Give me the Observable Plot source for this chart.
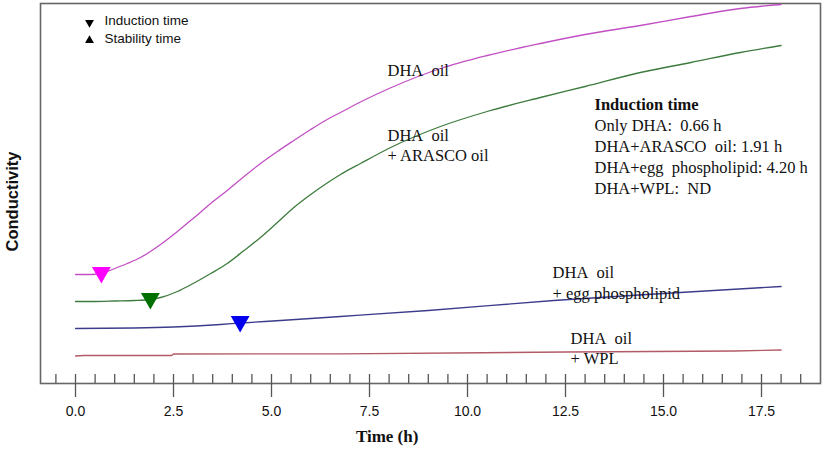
<!DOCTYPE html>
<html>
<head>
<meta charset="utf-8">
<script src="https://cdn.jsdelivr.net/npm/d3@7"></script>
<script src="https://cdn.jsdelivr.net/npm/@observablehq/plot@0.6"></script>
<style>
  html, body { margin: 0; padding: 0; background: #fff; }
</style>
</head>
<body>
<div id="chart"></div>
<script>
// Time (h) and conductivity (arbitrary units) for each sample
const dhaTime   = [0, 0.4, 0.66, 1.0, 1.32, 1.66, 2.17, 2.6, 3.0, 3.45, 3.87, 4.3, 4.72, 5.15, 5.57, 6.0, 6.42, 6.76, 7.27, 8.0, 9.31, 10.5, 11.86, 13.0, 14.41, 15.7, 16.96, 18.0];
const dhaValue  = [109, 109, 110, 115, 120, 126, 139, 152, 165, 180, 193, 207, 220, 232, 243, 254, 264, 271, 281.5, 295, 315, 328, 340, 349, 358, 367, 375, 379];

const arascoTime  = [0, 0.5, 1.0, 1.5, 1.91, 2.17, 2.6, 3.0, 3.45, 3.87, 4.3, 4.72, 5.15, 5.57, 6.0, 6.42, 6.76, 7.27, 8.04, 9.31, 10.5, 11.86, 13.0, 14.41, 15.7, 16.96, 18.0];
const arascoValue = [82, 82, 82.5, 83, 84, 86, 92, 100, 110, 120, 133, 146, 161, 176, 189, 200.5, 209, 220, 236, 257, 272, 286, 297, 311, 321, 331, 338];

const eggTime  = [0, 1.5, 2.5, 3.7, 4.23, 5.23, 6.76, 9.0, 12.2, 15.0, 18.0];
const eggValue = [55, 55.5, 56.5, 59, 60.5, 63, 67, 73, 83, 90, 97];

const wplTime  = [0, 0.2, 2.45, 2.5, 6.76, 12.5, 16.8, 18.0];
const wplValue = [27.5, 28, 28, 29.5, 29.7, 31.5, 32.5, 33.5];

// Induction times (markers)
const inductionTime  = [0.66, 1.91, 4.20];
const inductionLevel = [111, 85, 62];
const inductionColor = ["#ff00ff", "#007000", "#0000ee"];

// Axis ticks
const majorTicks = [0, 2.5, 5, 7.5, 10, 12.5, 15, 17.5];
const minorTicks = [-0.5, 0, 0.5, 1, 1.5, 2, 2.5, 3, 3.5, 4, 4.5, 5, 5.5, 6, 6.5, 7, 7.5, 8, 8.5, 9, 9.5, 10, 10.5, 11, 11.5, 12, 12.5, 13, 13.5, 14, 14.5, 15, 15.5, 16, 16.5, 17, 17.5, 18, 18.5];

// Text
const inductionLines = ["Only DHA:\u00a0 0.66 h", "DHA+ARASCO\u00a0 oil: 1.91 h", "DHA+egg\u00a0 phospholipid: 4.20 h", "DHA+WPL:\u00a0 ND"];

const toRows = (t, v) => t.map((d, i) => ({time: d, value: v[i]}));
const dha = toRows(dhaTime, dhaValue);
const arasco = toRows(arascoTime, arascoValue);
const egg = toRows(eggTime, eggValue);
const wpl = toRows(wplTime, wplValue);
const markers = inductionTime.map((d, i) => ({time: d, value: inductionLevel[i], color: inductionColor[i]}));

const serif = "'Liberation Serif', 'Times New Roman', serif";
const sans = "'Liberation Sans', Arial, sans-serif";
const annot = {fontFamily: serif, fontSize: 16.5, textAnchor: "start", fill: "#111"};

const chart = Plot.plot({
  width: 827,
  height: 453,
  marginLeft: 40,
  marginRight: 7,
  marginTop: 3,
  marginBottom: 70,
  x: {domain: [-0.893, 19.005]},
  y: {domain: [0, 380], axis: null},
  style: {background: "#fff"},
  marks: [
    Plot.frame({stroke: "#666", strokeWidth: 1.6}),
    Plot.ruleX(minorTicks, {x: d => d, y1: 0, y2: 9, stroke: "#555", strokeWidth: 1.3}),
    Plot.axisX({ticks: majorTicks, tickSize: 14, tickPadding: 9, tickFormat: d3.format(".1f"),
      fontSize: 14, fontFamily: sans, label: null, stroke: "#555", strokeWidth: 1.3, fill: "#111"}),
    Plot.line(dha, {x: "time", y: "value", stroke: "#c24fc4", strokeWidth: 1.3, curve: "monotone-x"}),
    Plot.line(arasco, {x: "time", y: "value", stroke: "#3e7b3e", strokeWidth: 1.3, curve: "monotone-x"}),
    Plot.line(egg, {x: "time", y: "value", stroke: "#3c3c8c", strokeWidth: 1.3, curve: "monotone-x"}),
    Plot.line(wpl, {x: "time", y: "value", stroke: "#b25a66", strokeWidth: 1.3, curve: "monotone-x"}),
    Plot.dot(markers, {x: "time", y: "value", fill: "color", symbol: "triangle", rotate: 180, r: 7, stroke: null}),
    // legend
    Plot.dot([0], {x: 0.357, y: 361, symbol: "triangle", rotate: 180, r: 3.3, fill: "#000"}),
    Plot.dot([0], {x: 0.357, y: 343, symbol: "triangle", r: 3.3, fill: "#000"}),
    Plot.text(["Induction time"], {x: 0.74, y: 363, fontFamily: sans, fontSize: 13.5, textAnchor: "start", fill: "#111"}),
    Plot.text(["Stability time"], {x: 0.74, y: 345, fontFamily: sans, fontSize: 13.5, textAnchor: "start", fill: "#111"}),
    // curve labels
    Plot.text(["DHA\u00a0 oil"], {x: 7.96, y: 313, ...annot}),
    Plot.text(["DHA\u00a0 oil"], {x: 7.96, y: 248, ...annot}),
    Plot.text(["+ ARASCO oil"], {x: 7.96, y: 228, ...annot}),
    Plot.text(["DHA\u00a0 oil"], {x: 12.17, y: 111, ...annot}),
    Plot.text(["+ egg phospholipid"], {x: 12.17, y: 90, ...annot}),
    Plot.text(["DHA\u00a0 oil"], {x: 12.63, y: 45, ...annot}),
    Plot.text(["+ WPL"], {x: 12.63, y: 25, ...annot}),
    // induction box
    Plot.text(["Induction time"], {x: 13.24, y: 279, ...annot, fontWeight: "bold"}),
    Plot.text(inductionLines, {x: 13.24, y: (d, i) => 258 - 21 * i, ...annot}),
    // axis titles
    Plot.text(["Conductivity"], {frameAnchor: "left", dx: -28, dy: 8, rotate: -90, textAnchor: "middle", fontFamily: sans, fontWeight: "bold", fontSize: 16.5, fill: "#111"}),
    Plot.text(["Time (h)"], {x: 7.95, frameAnchor: "bottom", dy: 58, fontFamily: serif, fontWeight: "bold", fontSize: 17, fill: "#111"})
  ]
});
document.getElementById("chart").appendChild(chart);
</script>
</body>
</html>
